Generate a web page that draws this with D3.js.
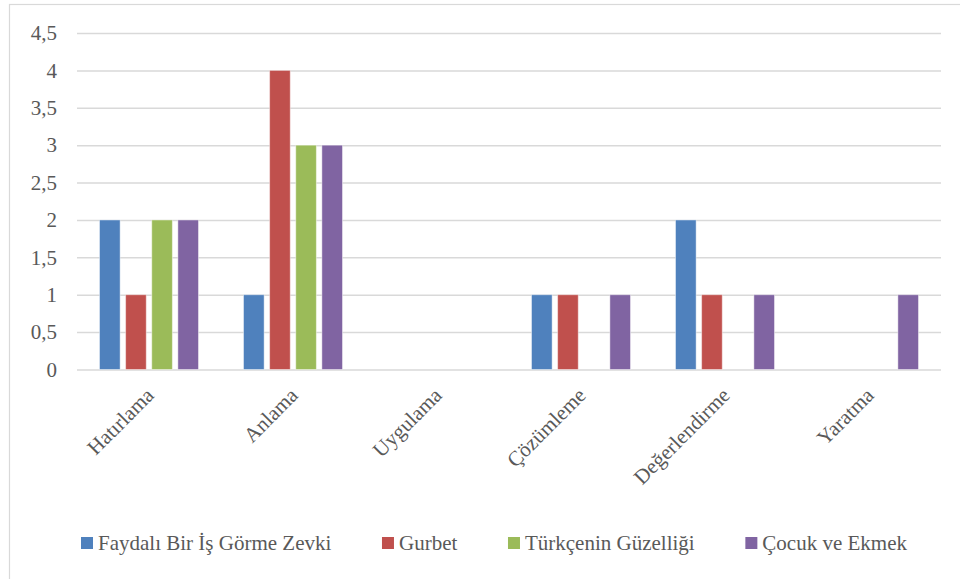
<!DOCTYPE html>
<html>
<head>
<meta charset="utf-8">
<script src="https://cdn.jsdelivr.net/npm/d3@7"></script>
<style>
  html, body { margin: 0; padding: 0; background: #fff; }
</style>
</head>
<body>
<svg id="chart" width="960" height="579"></svg>
<script>
const categories = ['Hatırlama','Anlama','Uygulama','Çözümleme','Değerlendirme','Yaratma']
const seriesNames = ['Faydalı Bir İş Görme Zevki','Gurbet','Türkçenin Güzelliği','Çocuk ve Ekmek']
const faydali = [2,1,0,1,2,0]
const gurbet = [1,4,0,1,1,0]
const turkcenin = [2,3,0,0,0,0]
const cocuk = [2,3,0,1,1,1]
const yTicks = [0,0.5,1,1.5,2,2.5,3,3.5,4,4.5]
const colors = ['#4f81bd','#c0504d','#9bbb59','#8064a2']

const values = [faydali,gurbet,turkcenin,cocuk]
const rows = categories.map((c,i)=>({cat:c,vals:values.map((v,s)=>({s,v:v[i]}))}))

const svg = d3.select('#chart')
const textColor = '#595959'
const font = 'Liberation Serif, DejaVu Serif, serif'
const fs = 21

// outer frame
svg.append('rect').attr('x',9.5).attr('y',4.5).attr('width',970).attr('height',600)
  .attr('fill','none').attr('stroke','#d9d9d9').attr('stroke-width',1.2)

const plot = {left:77,right:941,top:33,bottom:369.5}

const x0 = d3.scaleBand().domain(categories).range([plot.left,plot.right]).padding(0)
const groupPad = 22.5
const x1 = d3.scaleBand().domain(d3.range(seriesNames.length))
  .range([groupPad,x0.bandwidth()-groupPad]).paddingInner(0.21).paddingOuter(0)
const y = d3.scaleLinear().domain([0,4.5]).range([plot.bottom,plot.top])

const fmt = d=>String(d).replace('.',',')

// gridlines
svg.append('g').attr('class','grid')
  .attr('transform',`translate(${plot.left},0)`)
  .call(d3.axisLeft(y).tickValues(yTicks).tickSize(-(plot.right-plot.left)).tickFormat(''))
  .call(g=>g.select('.domain').remove())
  .call(g=>g.selectAll('line').attr('stroke','#d9d9d9').attr('stroke-width',1.5))

// y labels
svg.append('g')
  .attr('transform',`translate(${plot.left},0)`)
  .call(d3.axisLeft(y).tickValues(yTicks).tickSize(0).tickPadding(20).tickFormat(fmt))
  .attr('font-family',font).attr('font-size',fs)
  .call(g=>g.select('.domain').remove())
  .call(g=>g.selectAll('text').attr('fill',textColor))

// bars
svg.append('g').selectAll('g').data(rows).join('g')
  .attr('transform',d=>`translate(${x0(d.cat)},0)`)
  .selectAll('rect').data(d=>d.vals.filter(v=>v.v>0)).join('rect')
  .attr('x',d=>x1(d.s))
  .attr('width',x1.bandwidth())
  .attr('y',d=>y(d.v))
  .attr('height',d=>y(0)-y(d.v))
  .attr('fill',d=>colors[d.s])
  .attr('stroke','rgba(255,255,255,0.45)').attr('stroke-width',1)

// category labels
svg.append('g').attr('font-family',font).attr('font-size',fs)
  .selectAll('text').data(categories).join('text')
  .attr('transform',d=>`translate(${x0(d)+x0.bandwidth()/2+1},${plot.bottom+22}) rotate(-45)`)
  .attr('text-anchor','end')
  .attr('dy','0.35em')
  .attr('fill',textColor)
  .text(d=>d)

// legend, spread between the first and last marker like the original
const legend = svg.append('g').attr('transform','translate(0,543)')
  .attr('font-family',font).attr('font-size',fs)
const items = legend.selectAll('g').data(seriesNames).join('g')
items.append('rect').attr('x',0).attr('y',-6).attr('width',12).attr('height',12)
  .attr('fill',(d,i)=>colors[i])
items.append('text').attr('x',17).attr('dy','0.35em').attr('fill',textColor).text(d=>d)
let widths = []
items.each(function(){ widths.push(17+d3.select(this).select('text').node().getComputedTextLength()) })
const legLeft = 81, legRight = 907
const gap = Math.max(20,(legRight-legLeft-d3.sum(widths))/(widths.length-1))
let cx = legLeft
items.attr('transform',(d,i)=>{ const t=`translate(${cx},0)`; cx+=widths[i]+gap; return t })
</script>
</body>
</html>
